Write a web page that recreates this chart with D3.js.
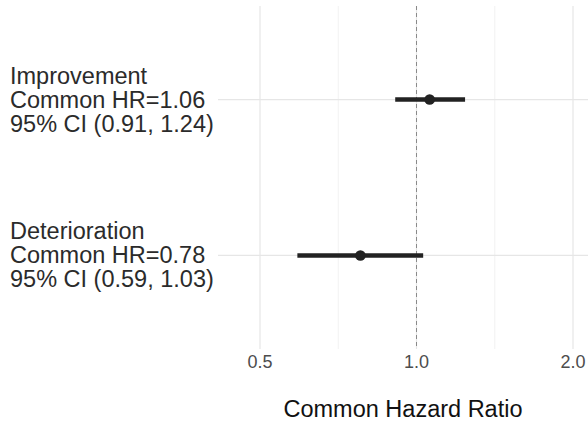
<!DOCTYPE html>
<html>
<head>
<meta charset="utf-8">
<script src="https://cdn.jsdelivr.net/npm/d3@7"></script>
<style>
  body { margin: 0; background: #fff; }
  svg { display: block; font-family: "Liberation Sans", Arial, sans-serif; }
</style>
</head>
<body>
<svg></svg>
<script>
var width = 588;
var height = 421;

// data
var outcomes = ["Improvement", "Deterioration"];
var hr = [1.06, 0.78];
var ciLow = [0.91, 0.59];
var ciHigh = [1.24, 1.03];
var xTicks = [0.5, 1.0, 2.0];

var svg = d3.select("svg")
    .attr("width", width)
    .attr("height", height);

// panel area (note: "top" is reserved on window, so use other names)
var pLeft = 218, pRight = 588, pTop = 6, pBottom = 349;

var x = d3.scaleLog().domain([0.5, 2]).range([260, 573]);
var y = d3.scalePoint().domain(outcomes).range([pTop, pBottom]).padding(0.6);

// minor grid at log midpoints
var minor = [];
for (var i = 0; i < xTicks.length - 1; i++) minor.push(Math.sqrt(xTicks[i] * xTicks[i + 1]));

svg.selectAll("line.minor").data(minor).enter().append("line")
    .attr("class", "minor")
    .attr("x1", function(d) { return x(d); })
    .attr("x2", function(d) { return x(d); })
    .attr("y1", pTop).attr("y2", pBottom)
    .attr("stroke", "#ececec").attr("stroke-width", 0.7);

svg.selectAll("line.major").data(xTicks).enter().append("line")
    .attr("class", "major")
    .attr("x1", function(d) { return x(d); })
    .attr("x2", function(d) { return x(d); })
    .attr("y1", pTop).attr("y2", pBottom)
    .attr("stroke", "#e6e6e6").attr("stroke-width", 1.2);

svg.selectAll("line.hgrid").data(outcomes).enter().append("line")
    .attr("class", "hgrid")
    .attr("x1", pLeft).attr("x2", pRight)
    .attr("y1", function(d) { return y(d); })
    .attr("y2", function(d) { return y(d); })
    .attr("stroke", "#e6e6e6").attr("stroke-width", 1.2);

// reference line at HR = 1
svg.append("line")
    .attr("x1", x(1)).attr("x2", x(1))
    .attr("y1", pTop).attr("y2", pBottom)
    .attr("stroke", "#8a8a8a").attr("stroke-width", 1)
    .attr("stroke-dasharray", "4,3");

// CIs and points
var rows = outcomes.map(function(d, i) {
    return { name: d, hr: hr[i], lo: ciLow[i], hi: ciHigh[i] };
});

svg.selectAll("line.ci").data(rows).enter().append("line")
    .attr("class", "ci")
    .attr("x1", function(d) { return x(d.lo); })
    .attr("x2", function(d) { return x(d.hi); })
    .attr("y1", function(d) { return y(d.name); })
    .attr("y2", function(d) { return y(d.name); })
    .attr("stroke", "#222").attr("stroke-width", 4.5);

svg.selectAll("circle").data(rows).enter().append("circle")
    .attr("cx", function(d) { return x(d.hr); })
    .attr("cy", function(d) { return y(d.name); })
    .attr("r", 5.3)
    .attr("fill", "#222");

// row labels (three lines each)
var lab = svg.selectAll("text.lab").data(rows).enter().append("text")
    .attr("class", "lab")
    .attr("x", 10)
    .attr("y", function(d) { return y(d.name) + 8; })
    .attr("fill", "#2b2b2b")
    .style("font-size", "23.5px");

lab.each(function(d) {
    var lines = [d.name,
        "Common HR=" + d.hr.toFixed(2),
        "95% CI (" + d.lo.toFixed(2) + ", " + d.hi.toFixed(2) + ")"];
    var t = d3.select(this);
    lines.forEach(function(s, k) {
        t.append("tspan").attr("x", 10).attr("dy", k == 0 ? -24 : 24).text(s);
    });
});

// x tick labels
svg.selectAll("text.tick").data(xTicks).enter().append("text")
    .attr("class", "tick")
    .attr("x", function(d) { return x(d); })
    .attr("y", 368)
    .attr("text-anchor", "middle")
    .attr("fill", "#4d4d4d")
    .style("font-size", "18px")
    .text(function(d) { return d.toFixed(1); });

svg.append("text")
    .attr("x", (pLeft + pRight) / 2)
    .attr("y", 417)
    .attr("text-anchor", "middle")
    .attr("fill", "#111")
    .style("font-size", "23.5px")
    .text("Common Hazard Ratio");
</script>
</body>
</html>
